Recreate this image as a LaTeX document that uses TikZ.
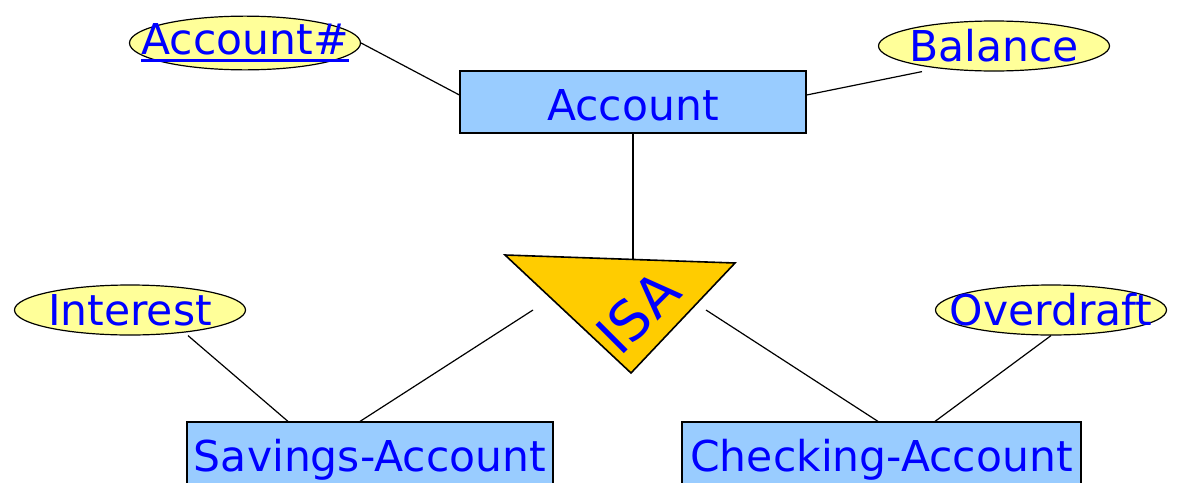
\documentclass[tikz,border=0pt]{standalone}
\usepackage{fontspec}
\setmainfont{DejaVu Sans}
\usetikzlibrary{shapes.geometric}
\definecolor{boxblue}{HTML}{99CCFF}
\definecolor{attryellow}{HTML}{FFFF99}
\definecolor{isagold}{HTML}{FFCC00}
\definecolor{txtblue}{HTML}{0000FF}
\newcommand\myul[1]{\setbox0\hbox{#1}\rlap{\rule[-7pt]{\wd0}{3pt}}\box0}
\begin{document}
\begin{tikzpicture}[x=1pt,y=-1pt,
  ent/.style={draw=black,line width=1.2pt,fill=boxblue,rectangle,inner sep=0pt,
    text height=40pt,text depth=4pt,
    text=txtblue,font=\fontsize{42.5}{42.5}\selectfont},
  attr/.style={draw=black,line width=1.2pt,fill=attryellow,ellipse,inner sep=0pt,
    minimum width=231pt,minimum height=50pt,text=txtblue,font=\fontsize{42.5}{42.5}\selectfont},
  conn/.style={draw=black,line width=1.2pt}]
\useasboundingbox (0,0) rectangle (1177,482);
% entities
\node[ent,minimum width=346pt,minimum height=62pt] (account) at (633,102) {Account};
\node[ent,minimum width=366pt,minimum height=62pt] (savings) at (370,453) {Savings-Account};
\node[ent,minimum width=399pt,minimum height=62pt] (checking) at (881.5,453) {Checking-Account};
% attributes
\node[attr] (accnum) at (245,43) {\makebox[0pt]{\myul{Account\#}}};
\node[attr] (balance) at (994,46) {\makebox[0pt]{Balance}};
\node[attr] (interest) at (130,310) {\makebox[0pt]{Interest}};
\node[attr] (overdraft) at (1051,310) {\makebox[0pt]{\hspace{-0pt}Overdraft}};
% ISA triangle
\coordinate (isaTL) at (505,255);
\coordinate (isaTR) at (735,263);
\coordinate (isaB) at (631,373);
\fill[isagold] (isaTL) -- (isaTR) -- (isaB) -- cycle;
\draw[line width=1.6pt,line join=miter] (isaTL) -- (isaTR) -- (isaB) -- cycle;
\node[text=txtblue,font=\fontsize{55}{55}\selectfont,rotate=45,inner sep=0pt] (isa) at (638,312) {ISA};
\coordinate (isaTop) at (633,258.6);
\coordinate (isaLeft) at (533,310);
\coordinate (isaRight) at (706,310);
% connectors
\draw[conn] (accnum.east) -- ([yshift=7pt]account.west);
\draw[conn] ([yshift=7pt]account.east) -- ([xshift=-72pt]balance.south);
\draw[conn] (account.south) -- (isaTop);
\draw[conn] ([xshift=58pt]interest.south) -- ([xshift=-82pt]savings.north);
\draw[conn] (isaLeft) -- ([xshift=-10pt]savings.north);
\draw[conn] (isaRight) -- ([xshift=-3.5pt]checking.north);
\draw[conn] (overdraft.south) -- ([xshift=53.5pt]checking.north);
\end{tikzpicture}
\end{document}
